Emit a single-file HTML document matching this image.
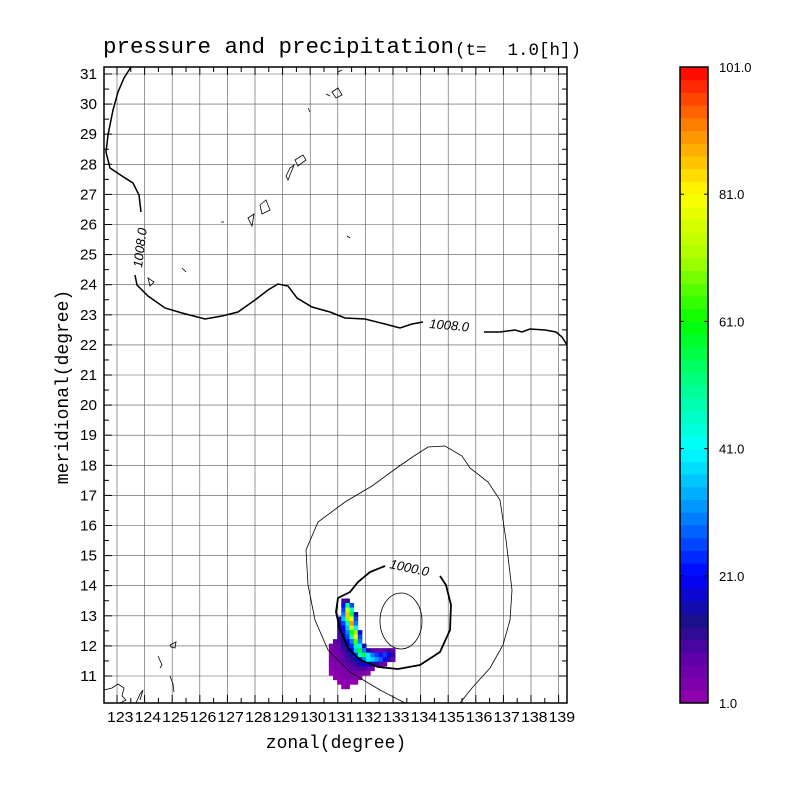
<!DOCTYPE html>
<html><head><meta charset="utf-8"><style>
body{margin:0;background:#fff;}
svg text{font-family:"Liberation Sans",sans-serif;}
</style></head><body>
<svg id="chart" width="790" height="788" xmlns="http://www.w3.org/2000/svg">
<g id="title">
<text x="103" y="53" font-size="22.5" fill="#000" style="font-family:'Liberation Mono',monospace">pressure and precipitation</text>
<text x="455" y="55" font-size="17.5" style="font-family:'Liberation Mono',monospace" xml:space="preserve">(t=  1.0[h])</text>
</g>
<text x="336" y="748" text-anchor="middle" font-size="18" style="font-family:'Liberation Mono',monospace">zonal(degree)</text>
<text transform="translate(68,387) rotate(-90)" text-anchor="middle" font-size="18" style="font-family:'Liberation Mono',monospace">meridional(degree)</text>
<g id="grid"></g>
<g id="precip"></g>
<g id="contours" fill="none" stroke="#000">
<path stroke-width="1.5" d="M131,67 L124,78 L118,92 L113,110 L108,135 L106,152 L110,168 L122,176 L133,183 L139,195 L141,212"/>
<path stroke-width="1.5" d="M135,275 L137,285 L148,296 L165,308 L182,313 L205,319 L222,316 L238,312 L255,300 L268,290 L278,284 L288,286 L297,298 L312,307 L330,312 L345,318 L365,319 L385,324 L400,328 L412,324 L423,322"/>
<path stroke-width="1.5" d="M484,332 L500,332 L515,330 L522,332 L530,329 L545,330 L556,332 L562,337 L567,345"/>
<text transform="translate(142,268) rotate(-83)" font-size="13" font-style="italic" fill="#000" stroke="none">1008.0</text>
<text transform="translate(429,328) rotate(5)" font-size="13" font-style="italic" fill="#000" stroke="none">1008.0</text>
<path stroke-width="1.8" d="M385,566 L370,572 L358,582 L350,592 L338,598 L336,612 L340,630 L348,648 L360,660 L378,667 L398,669 L420,665 L440,652 L450,630 L451,605 L446,585 L440,576"/>
<text transform="translate(389,568) rotate(12)" font-size="13" font-style="italic" fill="#000" stroke="none">1000.0</text>
<path stroke-width="0.8" d="M405,703 L380,690 L350,672 L328,650 L315,620 L308,585 L306,550 L318,522 L345,502 L372,486 L398,467 L414,456 L428,447 L445,446 L462,456 L470,468 L488,482 L500,500 L506,540 L512,590 L510,620 L503,645 L490,668 L472,688 L460,703"/>
<ellipse cx="401" cy="621" rx="21" ry="28" stroke-width="0.8"/>
<g stroke-width="0.8">
<path d="M104,690 L112,688 L118,684 L124,688 L122,696 L126,700 L120,703"/>
<path d="M136,703 L140,694 L143,690 L140,700"/>
<path d="M158,656 L162,665 L160,668"/>
<path d="M170,645 L176,642 L175,648 L171,647Z"/>
<path d="M170,676 L173,684 L174,692"/>
<path d="M286,176 L290,168 L294,165 L288,180Z"/>
<path d="M295,160 L303,155 L306,160 L298,166Z"/>
<path d="M260,205 L266,200 L270,210 L262,214Z"/>
<path d="M248,218 L254,214 L252,226Z"/>
<path d="M332,92 L338,88 L342,95 L336,98Z"/>
<path d="M326,94 L330,96"/>
<path d="M338,72 L342,70"/>
<path d="M148,278 L154,282 L150,286Z"/>
<path d="M182,268 L186,272"/>
<path d="M347,236 L350,238"/>
<path d="M221,222 L224,222"/>
<path d="M308,108 L310,112"/>
</g>
</g>
<rect x="104" y="67" width="463" height="636" fill="none" stroke="#000" stroke-width="1.5"/>
<g id="ticks"></g>
<g id="cbar"></g>
</svg>
<script>
const lonTicks=[123,124,125,126,127,128,129,130,131,132,133,134,135,136,137,138,139];
const latTicks=[11,12,13,14,15,16,17,18,19,20,21,22,23,24,25,26,27,28,29,30,31];
const cbarLevels=[1,21,41,61,81,101];
const cbarLabels=["1.0","21.0","41.0","61.0","81.0","101.0"];
const precipLon0=130.6, precipLat0=13.5, precipStep=0.15;
const precipRows=[
[0,0,0,0,10,12,0,0,0,0,0,0,0,0,0,0,0,0],
[0,0,0,0,20,50,25,0,0,0,0,0,0,0,0,0,0,0],
[0,0,0,0,25,75,45,0,0,0,0,0,0,0,0,0,0,0],
[0,0,0,0,30,85,55,15,0,0,0,0,0,0,0,0,0,0],
[0,0,0,15,35,70,80,25,0,0,0,0,0,0,0,0,0,0],
[0,0,0,15,25,45,90,30,0,0,0,0,0,0,0,0,0,0],
[0,0,0,12,20,35,75,40,0,0,0,0,0,0,0,0,0,0],
[0,0,0,10,18,30,60,70,20,0,0,0,0,0,0,0,0,0],
[0,0,0,10,15,25,45,80,25,0,0,0,0,0,0,0,0,0],
[0,0,8,10,14,20,30,65,30,0,0,0,0,0,0,0,0,0],
[0,4,6,8,12,16,24,50,40,15,0,0,0,0,0,0,0,0],
[0,4,5,7,10,14,20,35,60,30,15,10,8,6,8,10,8,0],
[0,3,4,6,8,12,16,25,45,55,40,30,25,22,25,20,12,0],
[0,3,4,5,7,9,12,16,22,30,40,38,32,28,20,12,6,0],
[0,3,3,4,5,7,9,12,15,18,20,16,12,8,5,0,0,0],
[0,2,3,3,4,5,7,8,9,9,7,5,0,0,0,0,0,0],
[0,2,2,3,3,4,4,5,4,3,2,0,0,0,0,0,0,0],
[0,0,2,2,3,3,3,3,2,0,0,0,0,0,0,0,0,0],
[0,0,0,2,2,2,2,2,0,0,0,0,0,0,0,0,0,0],
[0,0,0,0,2,2,0,0,0,0,0,0,0,0,0,0,0,0]];
const colorStops=[[1,[150,0,175]],[8,[95,0,170]],[14,[25,16,140]],[21,[0,0,255]],[31,[0,140,255]],[41,[0,255,255]],[51,[0,255,140]],[61,[0,255,0]],[71,[170,255,0]],[81,[255,255,0]],[91,[255,140,0]],[101,[255,0,0]]];
const NS="http://www.w3.org/2000/svg";
const X=lon=>117+(lon-123)*27.6;
const Y=lat=>676-(lat-11)*30.1;
function color(v){v=Math.max(1,Math.min(101,Math.floor((v-1)/2)*2+2));
for(let i=1;i<colorStops.length;i++){if(v<=colorStops[i][0]){const a=colorStops[i-1],b=colorStops[i],t=(v-a[0])/(b[0]-a[0]);return "rgb("+a[1].map((c,k)=>Math.round(c+(b[1][k]-c)*t)).join(",")+")";}}return "rgb(255,0,0)";}
function mk(tag,attrs,parent){const e=document.createElementNS(NS,tag);for(const k in attrs)e.setAttribute(k,attrs[k]);parent.appendChild(e);return e;}
const grid=document.getElementById("grid"),ticks=document.getElementById("ticks");
lonTicks.forEach(l=>{const x=X(l);
const g=mk("line",{x1:x,x2:x,y1:67,y2:703,stroke:"#555","stroke-width":0.6},grid);


[0,0.5].forEach(o=>{const xx=X(l+o);if(xx<567){mk("line",{x1:xx,x2:xx,y1:703,y2:703-(o?5:8),stroke:"#000"},ticks);mk("line",{x1:xx,x2:xx,y1:67,y2:67+(o?5:8),stroke:"#000"},ticks);}});
const t=mk("text",{x:x-10,y:722,"font-size":15,textLength:26.5,lengthAdjust:"spacingAndGlyphs"},ticks);


t.textContent=l;});
latTicks.forEach(l=>{const y=Y(l);
const g=mk("line",{x1:104,x2:567,y1:y,y2:y,stroke:"#555","stroke-width":0.6},grid);


[0,0.5].forEach(o=>{const yy=Y(l+o);if(yy>67){mk("line",{x1:104,x2:104+(o?5:8),y1:yy,y2:yy,stroke:"#000"},ticks);mk("line",{x1:567,x2:567-(o?5:8),y1:yy,y2:yy,stroke:"#000"},ticks);}});
const t=mk("text",{x:80,y:y+5,"font-size":15,textLength:17,lengthAdjust:"spacingAndGlyphs"},ticks);


t.textContent=l;});
const pg=document.getElementById("precip");
const cw=precipStep*27.6, ch=precipStep*30.1;
precipRows.forEach((row,j)=>row.forEach((v,i)=>{if(!v)return;
const lon=precipLon0+i*precipStep, lat=precipLat0-j*precipStep;
const r=mk("rect",{x:X(lon)-cw/2,y:Y(lat)-ch/2,width:cw+0.4,height:ch+0.4,fill:color(v)},pg);

}));
const cb=document.getElementById("cbar");
const cy=v=>703-(v-1)/100*636;
for(let v=1;v<101;v+=2){const r=mk("rect",{x:680,y:cy(v+2),width:28,height:cy(v)-cy(v+2)+0.5,fill:color(v+1)},cb);

}
const fr=mk("rect",{x:680,y:67,width:28,height:636,fill:"none",stroke:"#000","stroke-width":1.5},cb);


cbarLevels.forEach((v,i)=>{const y=cy(v);
mk("line",{x1:680,x2:684,y1:y,y2:y,stroke:"#000"},cb);mk("line",{x1:704,x2:708,y1:y,y2:y,stroke:"#000"},cb);
const t=mk("text",{x:719,y:y+5,"font-size":13},cb);


t.textContent=cbarLabels[i];});
</script>
</body></html>
